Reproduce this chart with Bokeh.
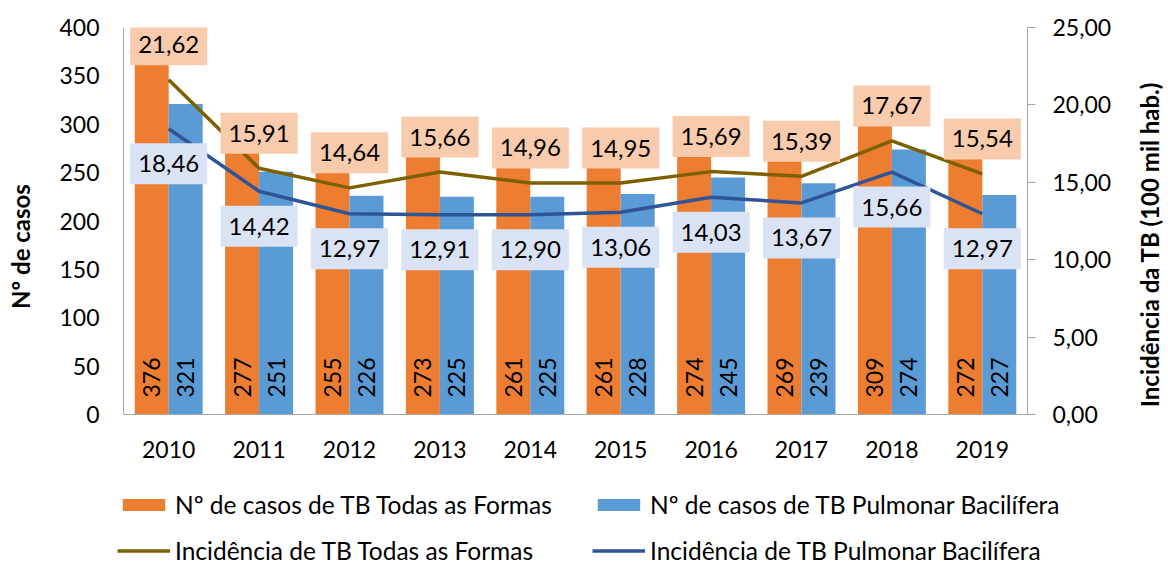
import math
from bokeh.plotting import figure
from bokeh.layouts import column, row
from bokeh.models import (FactorRange, Range1d, LinearAxis, SingleIntervalTicker,
                          CustomJSTickFormatter, ColumnDataSource, Legend, LegendItem, Label)
from bokeh.transform import dodge
from bokeh.core.properties import value
from bokeh.embed import file_html
from bokeh.resources import INLINE

years = ["2010", "2011", "2012", "2013", "2014", "2015", "2016", "2017", "2018", "2019"]
casos_todas = [376, 277, 255, 273, 261, 261, 274, 269, 309, 272]
casos_pulm = [321, 251, 226, 225, 225, 228, 245, 239, 274, 227]
inc_todas = [21.62, 15.91, 14.64, 15.66, 14.96, 14.95, 15.69, 15.39, 17.67, 15.54]
inc_pulm = [18.46, 14.42, 12.97, 12.91, 12.90, 13.06, 14.03, 13.67, 15.66, 12.97]

ser_names = ["Nº de casos de TB Todas as Formas", "Nº de casos de TB Pulmonar Bacilífera",
             "Incidência de TB Todas as Formas", "Incidência de TB Pulmonar Bacilífera"]
left_title = "Nº de casos"
right_title = "Incidência da TB (100 mil hab.)"

fmt = lambda v: f"{v:.2f}".replace(".", ",")
src = ColumnDataSource(dict(
    year=years, todas=casos_todas, pulm=casos_pulm, inc_t=inc_todas, inc_p=inc_pulm,
    lab_todas=[str(v) for v in casos_todas], lab_pulm=[str(v) for v in casos_pulm],
    lab_inc_t=[fmt(v) for v in inc_todas], lab_inc_p=[fmt(v) for v in inc_pulm],
))

ORANGE = "#ED7D31"
BLUE = "#5B9BD5"
OLIVE = "#7F6000"
DBLUE = "#2F5597"
AXIS = "#A6A6A6"
FONT = "Lato"

p = figure(width=1088, height=480, x_range=FactorRange(*years), y_range=Range1d(0, 400),
           output_backend="svg", toolbar_location=None,
           min_border_left=83, min_border_right=101, min_border_top=27, min_border_bottom=66)
p.extra_y_ranges = {"inc": Range1d(0, 25)}
p.outline_line_color = None
p.xgrid.visible = False
p.ygrid.visible = False

r_o = p.vbar(x=dodge("year", -0.188, range=p.x_range), top="todas", width=0.376, bottom=0,
             source=src, fill_color=ORANGE, line_color=None)
r_b = p.vbar(x=dodge("year", 0.188, range=p.x_range), top="pulm", width=0.376, bottom=0,
             source=src, fill_color=BLUE, line_color=None)

r_lt = p.line(x="year", y="inc_t", y_range_name="inc", source=src, line_color=OLIVE, line_width=3.5)
r_lp = p.line(x="year", y="inc_p", y_range_name="inc", source=src, line_color=DBLUE, line_width=3.5)

# bar value labels (vertical)
for off, col in [(-0.188, "lab_todas"), (0.188, "lab_pulm")]:
    p.text(x=dodge("year", off, range=p.x_range), y=0, text=col, source=src, angle=math.pi / 2,
           text_align="left", text_baseline="middle", y_offset=-17,
           text_font=value(FONT), text_font_size="23px", text_color="black")

# incidence labels with boxes
p.text(x="year", y="inc_t", text="lab_inc_t", source=src, y_range_name="inc", y_offset=-35,
       text_align="center", text_baseline="middle", text_font=value(FONT), text_font_size="24px",
       text_color="black", background_fill_color="#F8CBAD", padding=dict(x=8, y=12))
p.text(x="year", y="inc_p", text="lab_inc_p", source=src, y_range_name="inc", y_offset=35,
       text_align="center", text_baseline="middle", text_font=value(FONT), text_font_size="24px",
       text_color="black", background_fill_color="#DAE3F3", padding=dict(x=8, y=12))

# axes
xa = p.xaxis[0]
xa.axis_line_color = AXIS
xa.major_tick_line_color = None
xa.minor_tick_line_color = None
xa.major_label_standoff = 20
xa.major_label_text_font = FONT
xa.major_label_text_font_size = "23px"
xa.major_label_text_color = "black"

ya = p.yaxis[0]
ya.ticker = SingleIntervalTicker(interval=50, num_minor_ticks=0)
ya.axis_line_color = AXIS
ya.major_tick_out = 0
ya.major_tick_in = 0
ya.minor_tick_line_color = None
ya.major_label_standoff = 24
ya.major_label_text_font = FONT
ya.major_label_text_font_size = "23px"
ya.major_label_text_color = "black"

ra = LinearAxis(y_range_name="inc", ticker=SingleIntervalTicker(interval=5, num_minor_ticks=0),
                formatter=CustomJSTickFormatter(code="return tick.toFixed(2).replace('.', ',');"))
ra.axis_line_color = AXIS
ra.major_tick_line_color = AXIS
ra.major_tick_out = 8
ra.major_tick_in = 0
ra.minor_tick_line_color = None
ra.major_label_standoff = 17
ra.major_label_text_font = FONT
ra.major_label_text_font_size = "23px"
ra.major_label_text_color = "black"
p.add_layout(ra, "right")


def title_strip(text, cx, cy):
    f = figure(width=40, height=480, x_range=Range1d(0, 1), y_range=Range1d(0, 1),
               output_backend="svg", toolbar_location=None,
               x_axis_location=None, y_axis_location=None, min_border=0)
    f.frame_align = False
    f.outline_line_color = None
    f.xgrid.visible = False
    f.ygrid.visible = False
    f.add_layout(Label(x=cx, y=cy, x_units="screen", y_units="screen", text=text,
                       angle=math.pi / 2, text_align="center", text_baseline="middle",
                       text_font=FONT, text_font_size="24px", text_font_style="bold",
                       text_color="black"))
    return f


lt = title_strip(left_title, 20, 234)
rt = title_strip(right_title, 21, 236)

# legend in its own strip below the chart
lg = figure(width=1168, height=85, x_range=Range1d(0, 1), y_range=Range1d(0, 1),
            output_backend="svg", toolbar_location=None,
            x_axis_location=None, y_axis_location=None, min_border=0)
lg.frame_align = False
lg.outline_line_color = None
lg.xgrid.visible = False
lg.ygrid.visible = False
# hidden proxies (not drawn) that only give the legend its swatches
d_o = lg.vbar(x="todas", top="todas", width=0.1, source=src, fill_color=ORANGE, line_color=None, visible=False)
d_b = lg.vbar(x="pulm", top="pulm", width=0.1, source=src, fill_color=BLUE, line_color=None, visible=False)
d_lt = lg.line(x="inc_t", y="inc_t", source=src, line_color=OLIVE, line_width=3.5, visible=False)
d_lp = lg.line(x="inc_p", y="inc_p", source=src, line_color=DBLUE, line_width=3.5, visible=False)

legend = Legend(items=[LegendItem(label=ser_names[0], renderers=[d_o]),
                       LegendItem(label=ser_names[1], renderers=[d_b]),
                       LegendItem(label=ser_names[2], renderers=[d_lt]),
                       LegendItem(label=ser_names[3], renderers=[d_lp])],
                orientation="horizontal", ncols=2, location=(117, 0),
                glyph_width=53, glyph_height=15, label_standoff=5, spacing=17,
                label_width=400, label_height=29,
                padding=0, margin=0, border_line_color=None, background_fill_alpha=0,
                inactive_fill_alpha=0,
                label_text_font=FONT, label_text_font_size="24.5px", label_text_color="black")
lg.add_layout(legend, "center")

p.frame_align = False
layout = column(row(lt, p, rt, spacing=0), lg, spacing=0)
open("out.html", "w").write(file_html(layout, INLINE))
